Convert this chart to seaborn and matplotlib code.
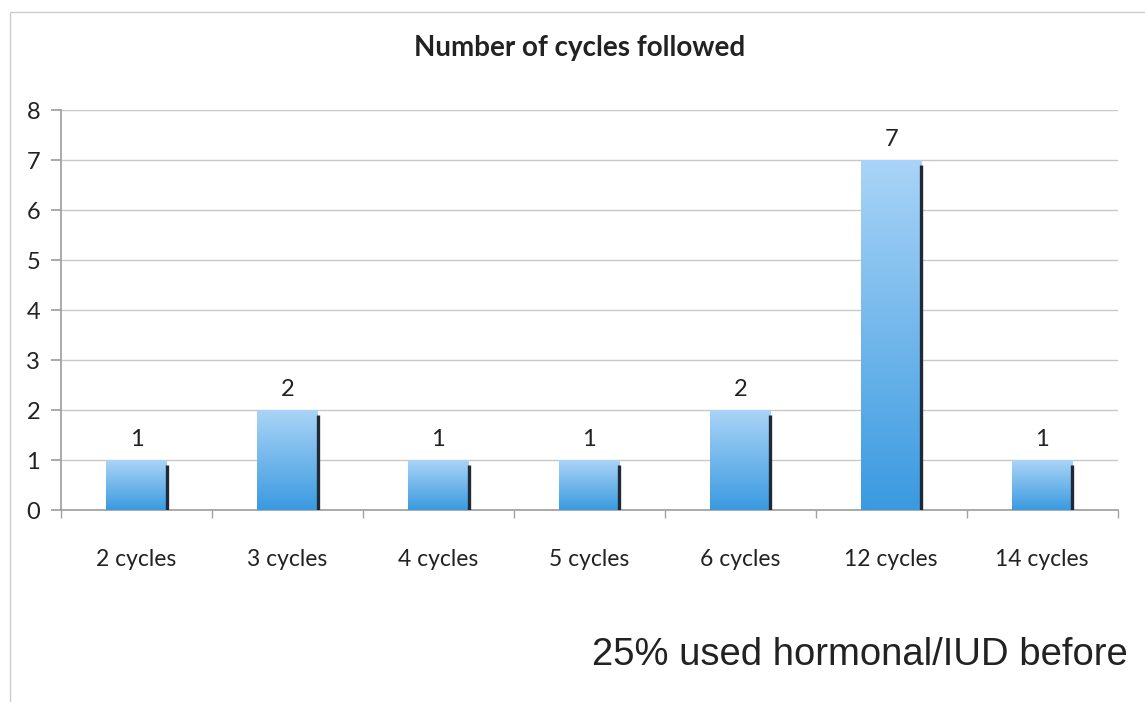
import numpy as np
import pandas as pd
import seaborn as sns
import matplotlib
matplotlib.use("Agg")
import matplotlib.pyplot as plt
from matplotlib.colors import LinearSegmentedColormap
from matplotlib.patches import Rectangle

categories = ["2 cycles", "3 cycles", "4 cycles", "5 cycles", "6 cycles", "12 cycles", "14 cycles"]
counts = [1, 2, 1, 1, 2, 7, 1]
y_ticks = [0, 1, 2, 3, 4, 5, 6, 7, 8]
title = "Number of cycles followed"
note = "25% used hormonal/IUD before"

sns.set_theme(style="white")
plt.rcParams['font.family'] = ['Lato', 'DejaVu Sans']

df = pd.DataFrame({"cat": categories, "n": counts})

fig = plt.figure(figsize=(11.45, 7.02), dpi=100)
ax = fig.add_axes([0.0533, 0.2735, 0.9227, 0.5698])

sns.barplot(data=df, x="cat", y="n", ax=ax, width=0.4, color="#5aaae8",
            edgecolor="none", linewidth=0, zorder=2)

ax.set_ylim(0, 8)
ax.set_xlim(-0.5, len(categories) - 0.5)
ax.set_yticks(y_ticks)
ax.yaxis.grid(True, color="#c8c8c8", linewidth=1)
ax.set_axisbelow(True)
ax.set_xlabel("")
ax.set_ylabel("")

for s in ["top", "right"]:
    ax.spines[s].set_visible(False)
ax.spines["left"].set_color("#a0a0a0")
ax.spines["bottom"].set_color("#a0a0a0")

ax.tick_params(axis="y", left=True, length=7, color="#a0a0a0", labelsize=17,
               labelcolor="#222222", pad=8)
ax.tick_params(axis="x", bottom=False, labelsize=16.5, labelcolor="#222222", pad=22)

ax.set_xticks(np.arange(-0.5, len(categories) + 0.5, 1), minor=True)
ax.tick_params(axis="x", which="minor", bottom=True, length=6, color="#a0a0a0")

cmap = LinearSegmentedColormap.from_list("bl", ["#3a9ae0", "#aad4f7"])
grad = np.linspace(0, 1, 256).reshape(-1, 1)
for p, v in zip(ax.patches, counts):
    x0, y0 = p.get_x(), p.get_y()
    w, h = p.get_width(), p.get_height()
    im = ax.imshow(grad, cmap=cmap, aspect="auto", origin="lower",
                   extent=[x0, x0 + w, y0, y0 + h], zorder=3)
    im.set_clip_path(p)
    ax.plot([x0 + w, x0 + w], [y0, y0 + h - 0.09], color="#1f2a36",
            linewidth=2.4, zorder=4, solid_capstyle="butt")
    ax.text(x0 + w / 2, y0 + h + 0.2, str(v), ha="center", va="bottom",
            fontsize=17, color="#222222", zorder=5)

ax.set_xlim(-0.5, len(categories) - 0.5)
ax.set_ylim(0, 8)

fig.text(0.506, 0.932, title, ha="center", va="center", fontsize=20,
         fontweight="bold", color="#222222")
fig.text(0.985, 0.053, note, ha="right", va="baseline", fontsize=27.5,
         color="#222222", family=["Liberation Sans", "DejaVu Sans"])

fig.add_artist(Rectangle((0.009, -0.01), 1.0, 0.993, transform=fig.transFigure,
                         fill=False, edgecolor="#cccccc", linewidth=1))

fig.savefig("out.png", dpi=100)
